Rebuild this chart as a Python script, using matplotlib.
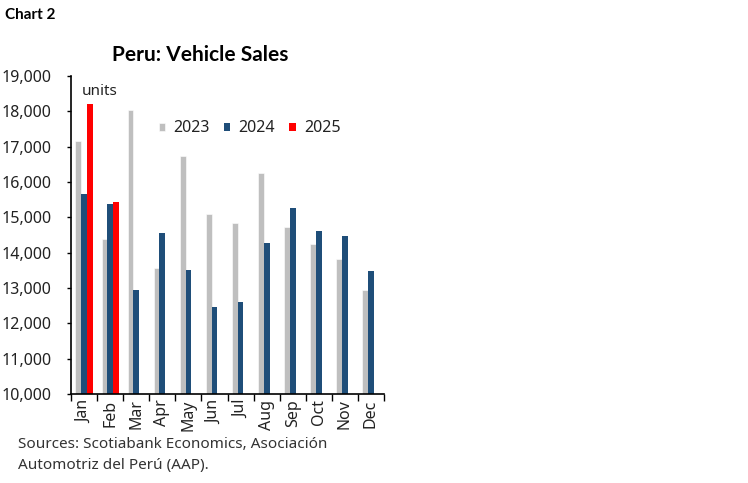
import numpy as np
import matplotlib
matplotlib.use("Agg")
import matplotlib.pyplot as plt

months = ["Jan", "Feb", "Mar", "Apr", "May", "Jun",
          "Jul", "Aug", "Sep", "Oct", "Nov", "Dec"]
sales_2023 = [17150, 14390, 18030, 13560, 16730, 15100,
              14830, 16240, 14720, 14240, 13830, 12930]
sales_2024 = [15650, 15380, 12930, 14560, 13520, 12450,
              12600, 14260, 15250, 14620, 14470, 13470]
sales_2025 = [18200, 15420] + [np.nan] * 10

plt.rcParams["font.family"] = ["Noto Sans", "DejaVu Sans"]
bold_font = ["Lato", "DejaVu Sans"]

fig = plt.figure(figsize=(7.48, 4.83), dpi=100)
ax = fig.add_axes([0.0949, 0.1843, 0.4185, 0.6584])

x = np.arange(len(months))
w = 0.22
ax.bar(x - w, sales_2023, w, color="#BFBFBF", edgecolor="white", linewidth=0.4, label="2023")
ax.bar(x, sales_2024, w, color="#1F4E79", label="2024")
ax.bar(x + w, sales_2025, w, color="#FF0000", label="2025")

ax.set_ylim(10000, 19000)
ax.set_yticks(range(10000, 19001, 1000))
ax.set_yticklabels([f"{v:,}" for v in range(10000, 19001, 1000)], fontsize=11.5, color="#222222")
ax.set_xlim(-0.5, 11.5)
ax.set_xticks(x)
ax.set_xticklabels(months, rotation=90, fontsize=11.5, color="#222222")
ax.tick_params(axis="x", length=0, pad=4)
ax.set_xticks(np.arange(-0.5, 12, 1), minor=True)
ax.tick_params(axis="x", which="minor", length=5, direction="out", width=1)
ax.tick_params(axis="y", length=3, direction="out", width=1, pad=11)

for s in ["top", "right"]:
    ax.spines[s].set_visible(False)
for s in ["left", "bottom"]:
    ax.spines[s].set_linewidth(1.2)
    ax.spines[s].set_color("black")

ax.text(0.035, 0.975, "units", transform=ax.transAxes, fontsize=11, color="#222222", va="top")
ax.legend(loc="center left", bbox_to_anchor=(0.235, 0.835), ncol=3, frameon=False,
          fontsize=11.5, handlelength=0.4, handleheight=0.4, columnspacing=0.9,
          handletextpad=0.5, labelcolor="#222222")

fig.text(200 / 748, 1 - 55 / 483, "Peru: Vehicle Sales", ha="center", va="center",
         fontsize=15, fontweight="bold", family=bold_font)
fig.text(5 / 748, 1 - 15 / 483, "Chart 2", ha="left", va="center",
         fontsize=11, fontweight="bold", family=bold_font)
fig.text(18 / 748, 1 - 445 / 483, "Sources: Scotiabank Economics, Asociación",
         ha="left", va="center", fontsize=11, color="#333333")
fig.text(18 / 748, 1 - 466 / 483, "Automotriz del Perú (AAP).",
         ha="left", va="center", fontsize=11, color="#333333")

fig.savefig("out.png", dpi=100)
